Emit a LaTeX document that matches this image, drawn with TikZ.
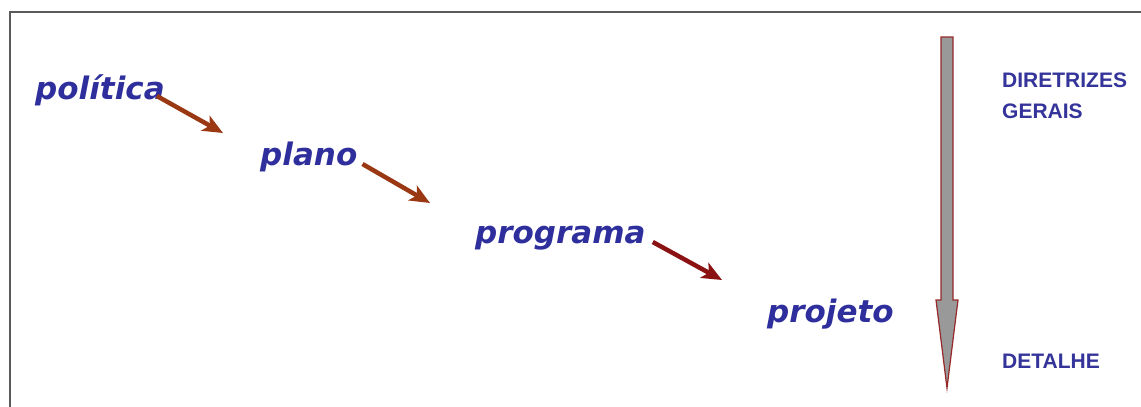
\documentclass[tikz,border=0pt]{standalone}
\usepackage{fontspec}
\setmainfont{DejaVu Sans}
\newfontfamily\labelfont{Liberation Sans}
\usetikzlibrary{arrows.meta}
\definecolor{wordblue}{HTML}{2E2E9C}
\definecolor{labelblue}{HTML}{34349A}
\definecolor{arrowbrown}{HTML}{9A3814}
\definecolor{arrowred}{HTML}{8A1212}
\definecolor{framegray}{HTML}{5A5A5A}
\begin{document}
\begin{tikzpicture}[x=1pt, y=-1pt,
        word/.style={inner sep=0pt, anchor=base west, text=wordblue,
            font=\fontsize{31}{31}\selectfont\bfseries\itshape},
        level/.style={inner sep=0pt, anchor=base west, text=labelblue, align=left,
            font=\labelfont\fontsize{21}{31}\selectfont\bfseries},
        stepline/.style={line width=4.5pt, -{Stealth[length=20pt, width=17pt, inset=5pt]}},
    ]
    \useasboundingbox (0,0) rectangle (1141,407);
    \draw[framegray, line width=2pt] (1141,11.5) -- (9.5,11.5) -- (9.5,407);

    \node[word](politicanode) at (35,99) {política};
    \node[word](planonode) at (260,165) {plano};
    \node[word](programanode) at (475,243) {programa};
    \node[word](projetonode) at (767,322) {projeto};

    \draw[stepline, arrowbrown] ([xshift=-8pt, yshift=3pt]politicanode.base east) -- ([xshift=-37pt, yshift=32pt]planonode.base west);
    \draw[stepline, arrowbrown] ([xshift=5pt, yshift=1pt]planonode.base east) -- ([xshift=-45pt, yshift=40pt]programanode.base west);
    \draw[stepline, arrowred] ([xshift=7pt, yshift=1pt]programanode.base east) -- ([xshift=-45pt, yshift=42pt]projetonode.base west);

    % seta vertical
    \filldraw[fill=gray!80, draw=arrowred!90, line width=1.2pt]
        (941,37) -- (953,37) -- (953,300) -- (958,300) -- (947,388) -- (936,300) -- (941,300) -- cycle;

    \node[level](geraisnode) at (1002,118) {DIRETRIZES\\GERAIS};
    \node[level](detalhenode) at (1002,368) {DETALHE};
\end{tikzpicture}
\end{document}
